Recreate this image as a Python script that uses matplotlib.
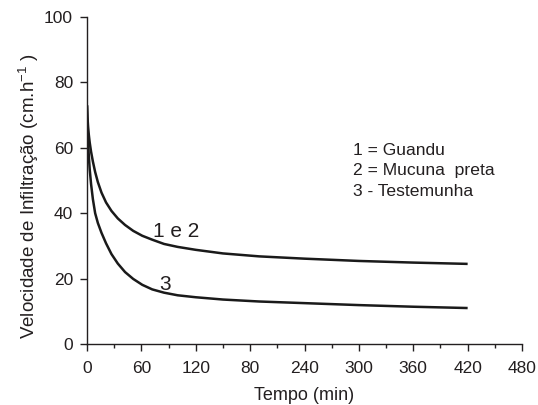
import matplotlib
matplotlib.use("Agg")
import matplotlib.pyplot as plt
from matplotlib.ticker import MultipleLocator

plt.rcParams['font.family'] = ['Liberation Sans', 'DejaVu Sans']

# Data
tempo = [0, 0.5, 1.2, 2, 3, 4.5, 6.5, 9, 12, 16, 21, 27, 34, 42, 51, 61, 72, 85,
         100, 120, 150, 190, 240, 300, 360, 420]
curva_12 = [73, 69.5, 66.5, 64.0, 61.6, 58.8, 55.8, 52.6, 49.5, 46.3, 43.3, 40.7,
            38.4, 36.4, 34.6, 33.1, 31.9, 30.6, 29.7, 28.8, 27.7, 26.8, 26.1, 25.4,
            24.9, 24.5]
curva_3 = [73, 67.5, 62.0, 57.5, 53.4, 48.9, 44.3, 40.0, 37.0, 34.0, 30.8, 27.5,
           24.6, 22.0, 19.9, 18.1, 16.7, 15.7, 14.9, 14.3, 13.6, 13.0, 12.5, 11.9,
           11.4, 11.0]

xtick_vals = [0, 60, 120, 180, 240, 300, 360, 420, 480]
xtick_labels = ['0', '60', '120', '80', '240', '300', '360', '420', '480']
ytick_vals = [0, 20, 40, 60, 80, 100]

legend_lines = ['1 = Guandu', '2 = Mucuna  preta', '3 - Testemunha']

txt = '#231f20'

fig = plt.figure(figsize=(5.38, 4.05), dpi=100)
ax = fig.add_axes([0.1617, 0.1506, 0.8086, 0.8074])

ax.plot(tempo, curva_12, color='#1a1a1a', lw=1.8, solid_capstyle='butt',
        solid_joinstyle='round')
ax.plot(tempo, curva_3, color='#1a1a1a', lw=1.8, solid_capstyle='butt',
        solid_joinstyle='round')

ax.set_xlim(0, 480)
ax.set_ylim(0, 100)
ax.set_xticks(xtick_vals)
ax.set_xticklabels(xtick_labels)
ax.xaxis.set_minor_locator(MultipleLocator(30))
ax.set_yticks(ytick_vals)

for s in ['top', 'right']:
    ax.spines[s].set_visible(False)
for s in ['left', 'bottom']:
    ax.spines[s].set_linewidth(1.0)
    ax.spines[s].set_color(txt)

ax.tick_params(axis='both', which='major', direction='out', length=5, width=1.0,
               labelsize=12.5, colors=txt)
ax.tick_params(axis='x', which='minor', direction='out', length=3, width=1.0, colors=txt)
ax.tick_params(axis='x', which='major', pad=7)
ax.tick_params(axis='y', which='major', pad=5)

xl = ax.set_xlabel('Tempo (min)', fontsize=13, color=txt)
ax.xaxis.set_label_coords(0.5, -0.156)
xl.set_va('center')

yl = ax.set_ylabel('Velocidade de Infiltração (cm.h$^{\\mathregular{-1}}$ )', fontsize=13.5,
                   color=txt)
ax.yaxis.set_label_coords(-0.134, 0.451)
yl.set_va('center')
yl.set_ha('center')

ax.text(72.5, 32.8, '1 e 2', fontsize=15, ha='left', va='baseline', color=txt)
ax.text(79.8, 16.5, '3', fontsize=15, ha='left', va='baseline', color=txt)

legend_baselines = [57.8, 51.8, 45.3]
for t, yb in zip(legend_lines, legend_baselines):
    ax.text(293, yb, t, fontsize=12.6, ha='left', va='baseline', color=txt)

fig.savefig('out.png', dpi=100)
